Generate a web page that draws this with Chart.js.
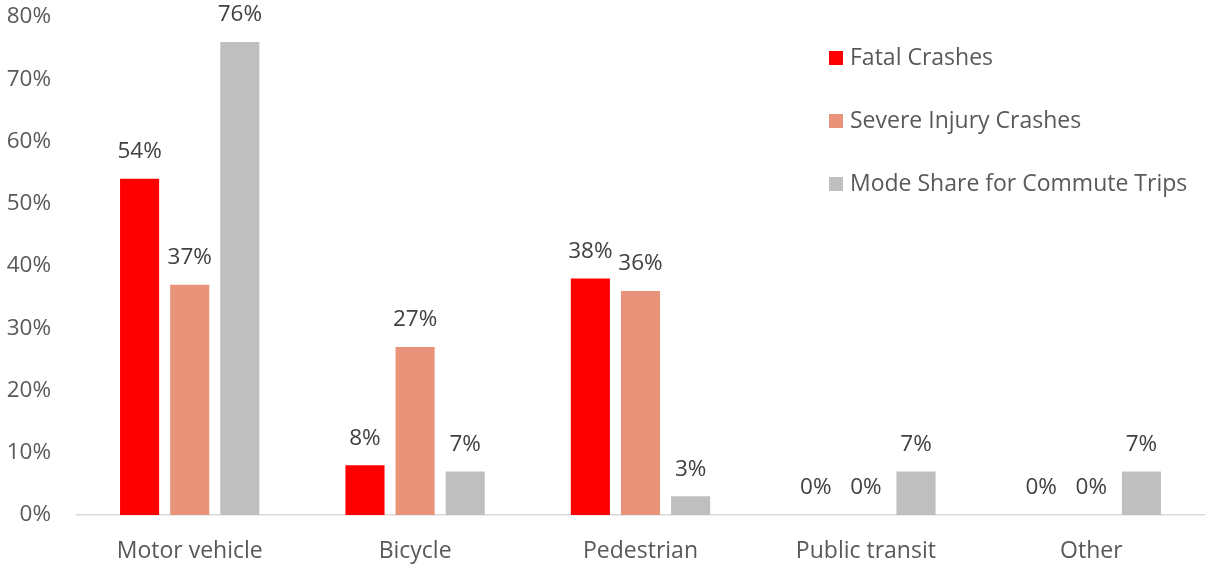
<!DOCTYPE html>
<html>
<head>
<meta charset="utf-8">
<script src="https://cdn.jsdelivr.net/npm/chart.js@4"></script>
<style>
  body { margin: 0; background: #fff; }
  #wrap { position: relative; width: 1206px; height: 565px; }
  #legend { position: absolute; left: 829px; top: 40px; font-family: "Open Sans", sans-serif; font-size: 23px; color: #595959; }
  #legend div { height: 63px; line-height: 32px; white-space: nowrap; }
  #legend span { display: inline-block; width: 14px; height: 14px; margin-right: 7px; vertical-align: 0px; }
</style>
</head>
<body>
<div id="wrap">
  <canvas id="myChart" width="1206" height="565"></canvas>
  <div id="legend"></div>
</div>
<script>
const categories = ['Motor vehicle', 'Bicycle', 'Pedestrian', 'Public transit', 'Other'];
const seriesNames = ['Fatal Crashes', 'Severe Injury Crashes', 'Mode Share for Commute Trips'];
const fatal = [54, 8, 38, 0, 0];
const severe = [37, 27, 36, 0, 0];
const modeShare = [76, 7, 3, 7, 7];
const colors = ['#FF0000', '#E9937A', '#BFBFBF'];
const yTicks = [0, 10, 20, 30, 40, 50, 60, 70, 80];

// legend as html
let legendHtml = '';
seriesNames.forEach(function (name, i) {
    legendHtml += '<div><span style="background:' + colors[i] + '"></span>' + name + '</div>';
});
document.getElementById('legend').innerHTML = legendHtml;

// value labels above bars
const barLabels = {
    id: 'barLabels',
    afterDatasetsDraw(chart) {
        const ctx = chart.ctx;
        ctx.save();
        ctx.font = '22.5px "Open Sans", sans-serif';
        ctx.fillStyle = '#404040';
        ctx.textAlign = 'center';
        ctx.textBaseline = 'middle';
        chart.data.datasets.forEach(function (ds, i) {
            chart.getDatasetMeta(i).data.forEach(function (bar, j) {
                ctx.fillText(ds.data[j] + '%', bar.x, bar.y - 27);
            });
        });
        ctx.restore();
    }
};

window.ctx = new Chart(document.getElementById('myChart'), {
    type: 'bar',
    data: {
        labels: categories,
        datasets: [
            { label: seriesNames[0], data: fatal, backgroundColor: colors[0] },
            { label: seriesNames[1], data: severe, backgroundColor: colors[1] },
            { label: seriesNames[2], data: modeShare, backgroundColor: colors[2] }
        ]
    },
    options: {
        responsive: false,
        animation: false,
        layout: { padding: { top: 0, right: 2, left: 0, bottom: 0 } },
        datasets: { bar: { categoryPercentage: 0.667, barPercentage: 0.78 } },
        plugins: { legend: { display: false }, tooltip: { enabled: false } },
        scales: {
            x: {
                grid: { display: false, drawTicks: false },
                border: { display: true, color: '#D9D9D9', width: 1.5 },
                ticks: { color: '#595959', font: { family: 'Open Sans', size: 23 }, padding: 23 },
                afterFit(scale) { scale.height = 50; }
            },
            y: {
                min: 0,
                max: 80,
                grid: { display: false, drawTicks: false },
                border: { display: false },
                afterBuildTicks(scale) { scale.ticks = yTicks.map(function (v) { return { value: v }; }); },
                ticks: {
                    color: '#595959',
                    font: { family: 'Open Sans', size: 22.5 },
                    padding: 26,
                    callback: function (v) { return v + '%'; }
                },
                afterFit(scale) { scale.width = 77; scale.paddingTop = 17; }
            }
        }
    },
    plugins: [barLabels]
});
</script>
</body>
</html>
